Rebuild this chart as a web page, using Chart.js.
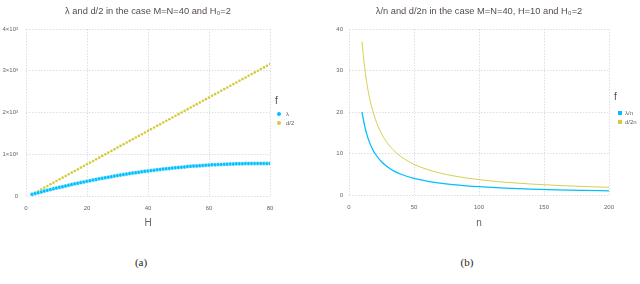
<!DOCTYPE html>
<html>
<head>
<meta charset="utf-8">
<script src="https://cdn.jsdelivr.net/npm/chart.js@4/dist/chart.umd.min.js"></script>
<style>
body { margin: 0; width: 640px; height: 284px; background: #fff; position: relative; overflow: hidden; font-family: "Liberation Sans", Arial, sans-serif; }
canvas { position: absolute; top: 0; }
.txt { position: absolute; white-space: nowrap; line-height: 1; transform: translate(-50%, -50%); }
.title { font-size: 9.3px; color: #564a55; }
.axis { font-size: 10px; color: #6c606b; }
.cap { font-family: "Liberation Serif", serif; font-size: 11px; font-weight: normal; color: #222; }
.leg { position: absolute; font-size: 6px; color: #6c606b; white-space: nowrap; line-height: 1; }
.legt { position: absolute; font-size: 10px; color: #564a55; line-height: 1; }
.dot { position: absolute; width: 4px; height: 4px; border-radius: 2px; }
</style>
</head>
<body>
<canvas id="chartA" width="296" height="240" style="left:0;width:296px;height:240px"></canvas>
<canvas id="chartB" width="318" height="240" style="left:320px;width:318px;height:240px"></canvas>

<div class="txt title" style="left:148px;top:12px">λ and d/2 in the case M=N=40 and H₀=2</div>
<div class="txt title" style="left:479px;top:12px">λ/n and d/2n in the case M=N=40, H=10 and H₀=2</div>
<div class="txt axis" style="left:148px;top:223px">H</div>
<div class="txt axis" style="left:479px;top:223px">n</div>
<div class="txt cap" style="left:141px;top:262px">(a)</div>
<div class="txt cap" style="left:467px;top:262px">(b)</div>

<div class="legt" style="left:275px;top:96px">f</div>
<div class="dot" style="left:277px;top:112px;background:#00BFFF"></div>
<div class="leg" style="left:286px;top:111px">λ</div>
<div class="dot" style="left:277px;top:121px;background:#D4CA3A"></div>
<div class="leg" style="left:286px;top:120px">d/2</div>

<div class="legt" style="left:614px;top:92px">f</div>
<div class="dot" style="left:618px;top:111px;background:#00BFFF;border-radius:0"></div>
<div class="leg" style="left:625px;top:110px">λ/n</div>
<div class="dot" style="left:618px;top:120px;background:#D4CA3A;border-radius:0"></div>
<div class="leg" style="left:625px;top:119px">d/2n</div>

<script>
// (a) lambda and d/2 against H
var hValues = [2, 3, 4, 5, 6, 7, 8, 9, 10, 11, 12, 13, 14, 15, 16, 17, 18, 19, 20, 21,
  22, 23, 24, 25, 26, 27, 28, 29, 30, 31, 32, 33, 34, 35, 36, 37, 38, 39, 40, 41,
  42, 43, 44, 45, 46, 47, 48, 49, 50, 51, 52, 53, 54, 55, 56, 57, 58, 59, 60, 61,
  62, 63, 64, 65, 66, 67, 68, 69, 70, 71, 72, 73, 74, 75, 76, 77, 78, 79, 80];
var lambdaValues = [40, 60, 79, 98, 117, 135, 154, 172, 190, 207, 224, 241, 258, 274, 291, 306, 322, 338, 353, 368,
  382, 396, 411, 424, 438, 451, 464, 477, 489, 502, 514, 525, 537, 548, 559, 569, 580, 590, 600, 609,
  619, 628, 637, 645, 653, 661, 669, 677, 684, 691, 697, 704, 710, 716, 721, 727, 732, 737, 741, 746,
  750, 754, 757, 760, 763, 766, 768, 771, 773, 774, 776, 777, 778, 778, 779, 779, 779, 778, 777];
var dHalfValues = [40, 80, 120, 160, 200, 240, 280, 320, 360, 400, 440, 480, 520, 560, 600, 640, 680, 720, 760, 800,
  840, 880, 920, 960, 1000, 1040, 1080, 1120, 1160, 1200, 1240, 1280, 1320, 1360, 1400, 1440, 1480, 1520, 1560, 1600,
  1640, 1680, 1720, 1760, 1800, 1840, 1880, 1920, 1960, 2000, 2040, 2080, 2120, 2160, 2200, 2240, 2280, 2320, 2360, 2400,
  2440, 2480, 2520, 2560, 2600, 2640, 2680, 2720, 2760, 2800, 2840, 2880, 2920, 2960, 3000, 3040, 3080, 3120, 3160];
var yTicksA = ['0', '1×10³', '2×10³', '3×10³', '4×10³'];

// (b) lambda/n and d/2n against n
var nValues = [10, 12, 14, 16, 18, 20, 25, 30, 35, 40, 50, 60, 70, 80, 90, 100, 120, 140, 160, 180, 200];
var lambdaPerN = [20, 16.7, 14.3, 12.5, 11.1, 10, 8, 6.67, 5.71, 5, 4, 3.33, 2.86, 2.5, 2.22, 2, 1.67, 1.43, 1.25, 1.11, 1.0];
var dHalfPerN = [37, 30.8, 26.4, 23.1, 20.6, 18.5, 14.8, 12.3, 10.6, 9.25, 7.4, 6.17, 5.29, 4.63, 4.11, 3.7, 3.08, 2.64, 2.31, 2.06, 1.85];

var BLUE = '#00BFFF';
var YELLOW = '#D4CA3A';
var GRID = '#D0D0E0';

function pts(xs, ys) {
  return xs.map(function (x, i) { return { x: x, y: ys[i] }; });
}

function axisOpts(min, max, step, extra) {
  var o = {
    type: 'linear',
    min: min,
    max: max,
    grid: { color: GRID, lineWidth: 0.7, drawTicks: false },
    border: { display: false, dash: [1.5, 1.5] },
    ticks: { stepSize: step, color: '#6c606b', font: { size: 6, family: 'Liberation Sans' } }
  };
  for (var k in extra) o[k] = extra[k];
  return o;
}

Chart.defaults.animation = false;

new Chart(document.getElementById('chartA'), {
  type: 'scatter',
  data: {
    datasets: [{
      label: 'λ',
      data: pts(hValues, lambdaValues),
      backgroundColor: BLUE,
      borderColor: '#ffffff',
      borderWidth: 0.4,
      pointRadius: 2,
      order: 1
    }, {
      label: 'd/2',
      data: pts(hValues, dHalfValues),
      backgroundColor: YELLOW,
      borderColor: YELLOW,
      borderWidth: 0,
      pointRadius: 1.3,
      order: 2
    }]
  },
  options: {
    responsive: false,
    layout: { padding: { left: 0, right: 26, top: 29, bottom: 24 } },
    plugins: { legend: { display: false }, tooltip: { enabled: false } },
    scales: {
      x: axisOpts(0, 80, 20, { afterFit: function (s) { s.height = 20; } }),
      y: axisOpts(0, 4000, 1000, { afterFit: function (s) { s.width = 26; } })
    }
  }
});

var chartA = Chart.getChart('chartA');
chartA.options.scales.x.ticks.padding = 9;
chartA.options.scales.y.ticks.padding = 8;
chartA.options.scales.y.ticks.callback = function (v) { return yTicksA[Math.round(v / 1000)]; };
chartA.update();

new Chart(document.getElementById('chartB'), {
  type: 'line',
  data: {
    datasets: [{
      label: 'λ/n',
      data: pts(nValues, lambdaPerN),
      borderColor: BLUE,
      borderWidth: 1.3,
      pointRadius: 0,
      cubicInterpolationMode: 'monotone',
      order: 1
    }, {
      label: 'd/2n',
      data: pts(nValues, dHalfPerN),
      borderColor: YELLOW,
      borderWidth: 0.9,
      pointRadius: 0,
      cubicInterpolationMode: 'monotone',
      order: 2
    }]
  },
  options: {
    responsive: false,
    layout: { padding: { left: 0, right: 29, top: 29, bottom: 25 } },
    plugins: { legend: { display: false }, tooltip: { enabled: false } },
    scales: {
      x: axisOpts(0, 200, 50, { afterFit: function (s) { s.height = 20; } }),
      y: axisOpts(0, 40, 10, { afterFit: function (s) { s.width = 29; } })
    }
  }
});

var chartB = Chart.getChart('chartB');
chartB.options.scales.x.ticks.padding = 9;
chartB.options.scales.y.ticks.padding = 6;
chartB.update();
</script>
</body>
</html>
